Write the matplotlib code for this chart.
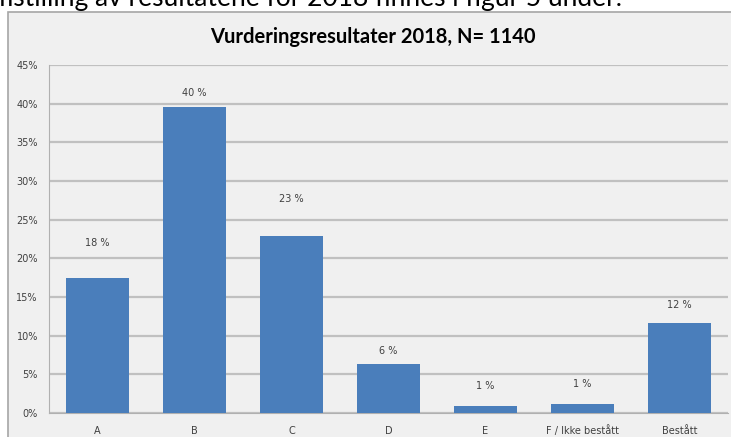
import matplotlib.pyplot as plt
from matplotlib.patches import Rectangle

categories = ['A', 'B', 'C', 'D', 'E', 'F / Ikke bestått', 'Bestått']
values = [17.5, 39.6, 22.9, 6.3, 0.85, 1.15, 11.6]
labels = ['18 %', '40 %', '23 %', '6 %', '1 %', '1 %', '12 %']
yticks = [0, 5, 10, 15, 20, 25, 30, 35, 40, 45]

# label heights above bar top in the original (pixels)
label_gap = [35, 14, 37, 13, 20, 20, 18]

fig = plt.figure(figsize=(7.31, 4.37), dpi=100)
fig.patch.set_facecolor('white')

# chart frame
fig.patches.append(Rectangle((8 / 731, -0.05), 1.0, 1 - 12 / 437 + 0.05,
                             transform=fig.transFigure, facecolor='#f0f0f0',
                             edgecolor='#a6a6a6', linewidth=1.2, zorder=-5))

# cut-off text line above the chart
fig.text(622 / 731, 1 - 6 / 437, 'Fremstilling av resultatene for 2018 finnes i figur 5 under.',
         ha='right', va='baseline', fontsize=19, family='Lato', color='black')

ax = fig.add_axes([49 / 731, 1 - 413 / 437, (728 - 49) / 731, (413 - 65) / 437])
ax.set_facecolor('#f0f0f0')

x = list(range(len(categories)))
ax.bar(x, values, width=0.64, color='#4a7ebb', zorder=3)

for xi, v, lab, gap in zip(x, values, labels, label_gap):
    ax.annotate(lab, (xi, v), xytext=(0, gap * 0.72), textcoords='offset points',
                ha='center', va='center', fontsize=7, color='#404040')

ax.set_xlim(-0.5, len(categories) - 0.5)
ax.set_ylim(0, 45)
ax.set_yticks(yticks)
ax.set_yticklabels([f'{t}%' for t in yticks])
ax.set_xticks(x)
ax.set_xticklabels(categories)
ax.tick_params(axis='y', length=0, pad=8, labelsize=7, labelcolor='#404040')
ax.tick_params(axis='x', length=0, pad=9, labelsize=7, labelcolor='#404040')

ax.grid(axis='y', color='#c0c0c0', linewidth=1.6, zorder=0)
for s in ['top', 'right']:
    ax.spines[s].set_visible(False)
ax.spines['left'].set_color('#b0b0b0')
ax.spines['bottom'].set_color('#b0b0b0')

fig.text(373 / 731, 1 - 43 / 437, 'Vurderingsresultater 2018, N= 1140',
         ha='center', va='baseline', fontsize=14.5, fontweight='bold', family='Lato')

fig.savefig('out.png', dpi=100)
